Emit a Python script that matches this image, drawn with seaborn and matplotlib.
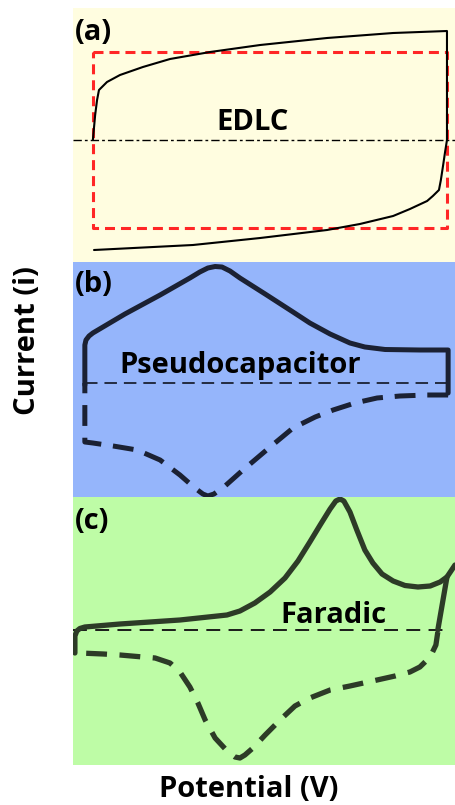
import matplotlib
matplotlib.use("Agg")
import matplotlib.pyplot as plt
import seaborn as sns

# ---------------- data ----------------
panel_labels = ["(a)", "(b)", "(c)"]
panel_names = ["EDLC", "Pseudocapacitor", "Faradic"]
x_label = "Potential (V)"
y_label = "Current (i)"

# (a) EDLC: real CV loop and ideal rectangle
edlc_potential = [0.052, 0.058, 0.063, 0.068, 0.089, 0.123, 0.183, 0.254, 0.359, 0.490, 0.665,
                  0.838, 0.979,
                  0.979, 0.974, 0.969, 0.963, 0.958, 0.942, 0.927, 0.882, 0.838, 0.751,
                  0.665, 0.490, 0.314, 0.055]
edlc_current = [0.00, 0.25, 0.40, 0.50, 0.58, 0.65, 0.73, 0.81, 0.88, 0.95, 1.02,
                1.07, 1.09,
                0.00, -0.12, -0.25, -0.40, -0.50, -0.56, -0.61, -0.69, -0.76, -0.84,
                -0.90, -0.98, -1.05, -1.10]
ideal_potential = [0.052, 0.979, 0.979, 0.052, 0.052]
ideal_current = [0.88, 0.88, -0.88, -0.88, 0.88]

# (b) Pseudocapacitor: anodic (solid) and cathodic (dashed) sweeps
pseudo_anodic_potential = [0.031, 0.031, 0.034, 0.042, 0.052, 0.136, 0.228, 0.306, 0.332, 0.353,
                           0.372, 0.390, 0.411, 0.437, 0.503, 0.576, 0.620, 0.673, 0.725, 0.764,
                           0.817, 0.908, 0.982, 0.982]
pseudo_anodic_current = [-0.02, 0.38, 0.43, 0.47, 0.50, 0.69, 0.88, 1.05, 1.11, 1.15,
                         1.165, 1.16, 1.12, 1.05, 0.89, 0.71, 0.60, 0.49, 0.40, 0.36,
                         0.335, 0.33, 0.33, -0.10]
pseudo_cathodic_potential = [0.982, 0.927, 0.856, 0.796, 0.738, 0.681, 0.634, 0.576, 0.516, 0.445,
                             0.398, 0.369, 0.353, 0.340, 0.319, 0.280, 0.228, 0.168, 0.105, 0.052,
                             0.031, 0.031]
pseudo_cathodic_current = [-0.12, -0.12, -0.13, -0.15, -0.20, -0.27, -0.34, -0.45, -0.64, -0.87,
                           -1.03, -1.11, -1.13, -1.11, -1.05, -0.92, -0.77, -0.67, -0.63, -0.60,
                           -0.59, 0.00]

# (c) Faradic: anodic (solid), switching segment, cathodic (dashed)
far_anodic_potential = [0.005, 0.005, 0.010, 0.018, 0.031, 0.123, 0.280, 0.403, 0.437, 0.476,
                        0.516, 0.555, 0.589, 0.620, 0.647, 0.673, 0.688, 0.699, 0.709, 0.725,
                        0.743, 0.764, 0.785, 0.809, 0.838, 0.869, 0.903, 0.935, 0.961, 0.979,
                        1.000]
far_anodic_current = [-0.23, -0.06, -0.01, 0.015, 0.03, 0.06, 0.10, 0.15, 0.19, 0.27,
                      0.38, 0.52, 0.69, 0.88, 1.05, 1.21, 1.29, 1.31, 1.29, 1.18,
                      1.00, 0.80, 0.67, 0.56, 0.49, 0.445, 0.43, 0.44, 0.48, 0.53,
                      0.65]
far_switch_potential = [0.979, 0.955]
far_switch_current = [0.53, 0.00]
far_cathodic_potential = [0.955, 0.950, 0.935, 0.908, 0.882, 0.843, 0.796, 0.725, 0.673, 0.620,
                          0.581, 0.542, 0.503, 0.471, 0.450, 0.437, 0.424, 0.406, 0.372, 0.346,
                          0.327, 0.306, 0.280, 0.254, 0.215, 0.183, 0.123, 0.079, 0.018, 0.005]
far_cathodic_current = [-0.02, -0.15, -0.27, -0.37, -0.42, -0.46, -0.50, -0.56, -0.60, -0.68,
                        -0.76, -0.90, -1.05, -1.18, -1.25, -1.28, -1.27, -1.22, -1.08, -0.90,
                        -0.73, -0.57, -0.42, -0.33, -0.28, -0.27, -0.25, -0.24, -0.23, -0.23]

# zero-current reference lines (potential extents)
zero_a = [0.0, 1.0]
zero_b = [0.031, 0.982]
zero_c = [0.0, 0.979]

# ---------------- style ----------------
sns.set_theme(style="white")
plt.rcParams["font.family"] = ["Open Sans", "DejaVu Sans"]
plt.rcParams["lines.scale_dashes"] = False
plt.rcParams["text.color"] = "black"

W, H = 455, 805
fig = plt.figure(figsize=(W / 100, H / 100), dpi=100)
fig.patch.set_facecolor("white")

def px_axes(top, bottom, left=73, right=455):
    return fig.add_axes([left / W, 1 - bottom / H, (right - left) / W, (bottom - top) / H])

ax_a = px_axes(8, 262)
ax_b = px_axes(262, 497)
ax_c = px_axes(497, 765)

bg = ["#FFFDE0", "#95B5FB", "#BEFCA6"]
ylims = [(-1.22, 1.32), (-1.14, 1.21), (-1.35, 1.33)]
for ax, c, yl in zip([ax_a, ax_b, ax_c], bg, ylims):
    ax.set_facecolor(c)
    ax.set_xlim(0, 1)
    ax.set_ylim(*yl)
    ax.set_xticks([])
    ax.set_yticks([])
    for s in ax.spines.values():
        s.set_visible(False)

def line(ax, x, y, **kw):
    sns.lineplot(x=x, y=y, sort=False, estimator=None, ax=ax, **kw)

# (a)
line(ax_a, zero_a, [0, 0], color="black", lw=1.0, linestyle=(0, (6, 2.2, 2, 2.2)))
line(ax_a, ideal_potential, ideal_current, color="#FF2626", lw=2.2, linestyle=(0, (7.2, 4.3)))
line(ax_a, edlc_potential, edlc_current, color="black", lw=1.5,
     solid_joinstyle="round", solid_capstyle="round")

# (b)
cb = "#1B2133"
line(ax_b, zero_b, [0, 0], color=cb, lw=1.3, linestyle=(0, (9, 5)))
line(ax_b, pseudo_anodic_potential, pseudo_anodic_current, color=cb, lw=3.6,
     solid_joinstyle="round", solid_capstyle="round")
line(ax_b, pseudo_cathodic_potential, pseudo_cathodic_current, color=cb, lw=3.6,
     linestyle=(0, (15, 8.5)))

# (c)
cc = "#2D3B27"
line(ax_c, zero_c, [0, 0], color="#1a1a1a", lw=1.4, linestyle=(0, (10, 6)))
line(ax_c, far_anodic_potential, far_anodic_current, color=cc, lw=3.8,
     solid_joinstyle="round", solid_capstyle="round")
line(ax_c, far_switch_potential, far_switch_current, color=cc, lw=3.8,
     solid_capstyle="round")
line(ax_c, far_cathodic_potential, far_cathodic_current, color=cc, lw=3.8,
     linestyle=(0, (15, 9)))

# texts
fs = 21
tk = dict(fontsize=fs, fontweight="bold", color="black")
ax_a.text(0.005, 1.07, panel_labels[0], ha="left", va="center", **tk)
ax_b.text(0.005, 0.99, panel_labels[1], ha="left", va="center", **tk)
ax_c.text(0.005, 1.09, panel_labels[2], ha="left", va="center", **tk)
ax_a.text(0.471, 0.10, panel_names[0], ha="center", va="baseline", **tk)
ax_b.text(0.437, 0.10, panel_names[1], ha="center", va="baseline", **tk)
ax_c.text(0.681, 0.07, panel_names[2], ha="center", va="baseline", **tk)

fig.text(249 / W, 1 - 789 / H, x_label, ha="center", va="center", **tk)
fig.text(28 / W, 1 - 341 / H, y_label, ha="center", va="center", rotation=90, **tk)

fig.savefig("out.png", dpi=100, facecolor="white")
